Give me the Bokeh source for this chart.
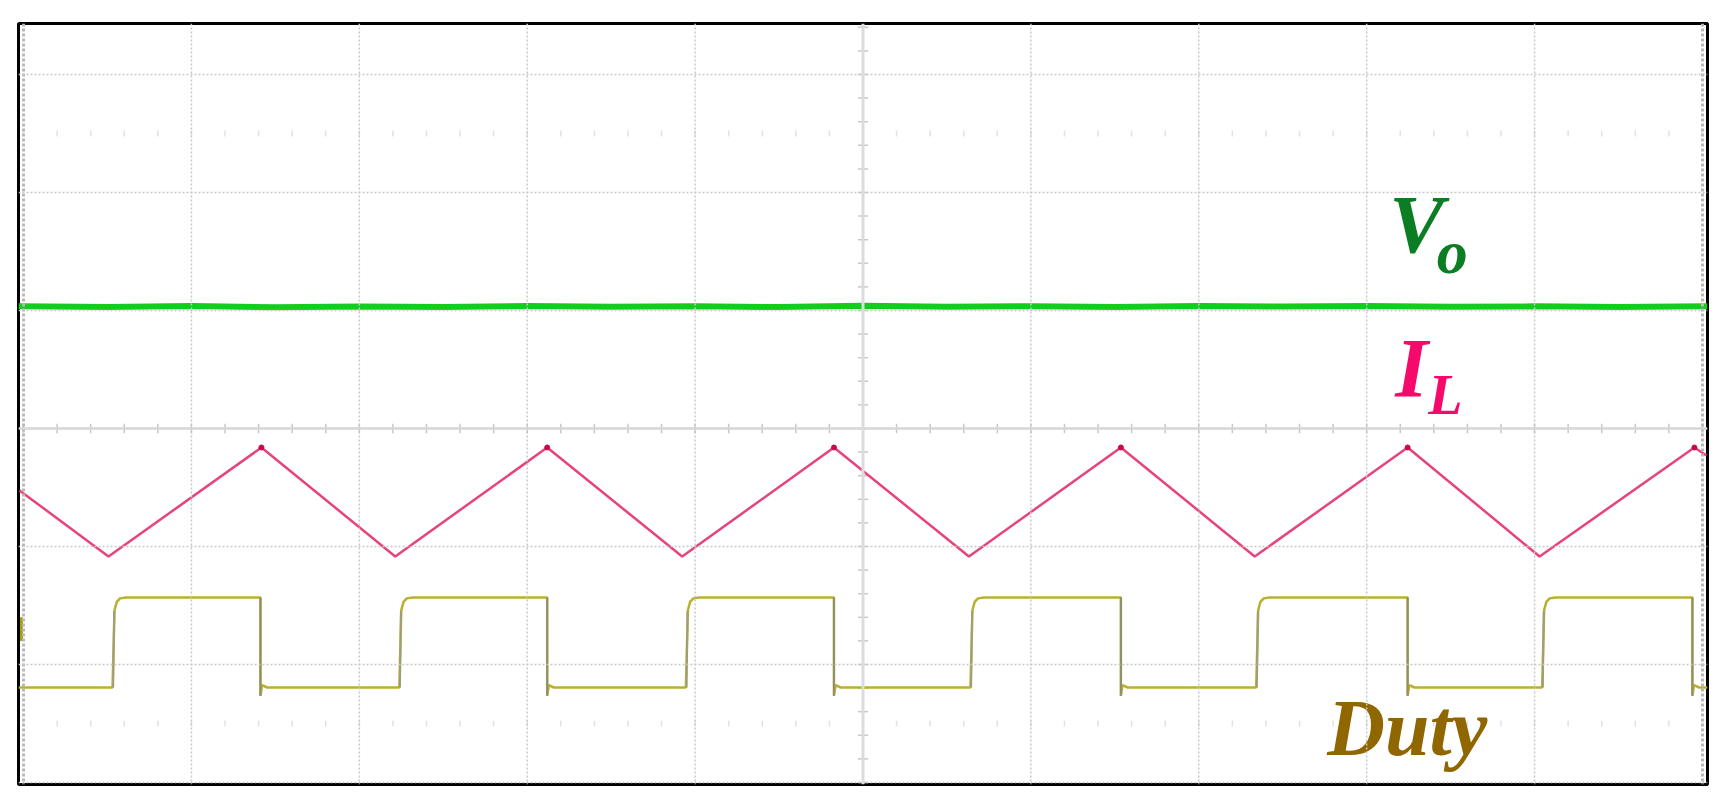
import numpy as np
from bokeh.plotting import figure
from bokeh.models import Range1d, Span
from bokeh.core.properties import value
from bokeh.embed import file_html
from bokeh.resources import INLINE

# ---- data (units: screen divisions; x = time div, y = amplitude div) ----
# Output voltage Vo: nearly flat trace with small ripple/noise
vo_t = [-5.03, -4.5, -4.0, -3.5, -3.0, -2.5, -2.0, -1.5, -1.0, -0.5, 0.0,
        0.5, 1.0, 1.5, 2.0, 2.5, 3.0, 3.5, 4.0, 4.5, 5.03]
vo_v = [1.035, 1.030, 1.038, 1.028, 1.034, 1.030, 1.037, 1.031, 1.036, 1.029, 1.040,
        1.032, 1.036, 1.030, 1.038, 1.033, 1.037, 1.031, 1.035, 1.030, 1.036]

# Inductor current IL: triangle vertices
il_t = [-5.024, -4.494, -3.583, -2.786, -1.881, -1.077, -0.173, 0.631, 1.536,
        2.333, 3.244, 4.030, 4.952, 5.024]
il_v = [-0.525, -1.085, -0.161, -1.085, -0.161, -1.085, -0.161, -1.085, -0.161,
        -1.085, -0.161, -1.085, -0.161, -0.229]
il_peak_t = [-3.583, -1.881, -0.173, 1.536, 3.244, 4.952]
il_peak_v = [-0.161, -0.161, -0.161, -0.161, -0.161, -0.161]

# Duty (gate signal): edges and levels
duty_rise = [-4.470, -2.762, -1.055, 0.640, 2.342, 4.045]
duty_fall = [-3.589, -1.881, -0.173, 1.536, 3.244, 4.940]
duty_low = -2.195
duty_high = -1.432

labels = ["V", "o", "I", "L", "Duty"]

# ---- figure ----
p = figure(width=1714, height=788, x_range=Range1d(-5.03, 5.03),
           y_range=Range1d(-3.017, 3.432), x_axis_location=None,
           y_axis_location=None, toolbar_location=None, output_backend="svg",
           min_border_left=18, min_border_right=7, min_border_top=23,
           min_border_bottom=4)
p.grid.visible = False
p.outline_line_color = "black"
p.outline_line_width = 3
p.background_fill_color = "white"
p.border_fill_color = "white"

# graticule
grid_col = "#c8c8c8"
for gx in [-4, -3, -2, -1, 1, 2, 3, 4]:
    p.add_layout(Span(location=gx, dimension="height", line_color=grid_col,
                      line_width=1.5, line_dash="2 2"))
for gx in [-5, 5]:
    p.add_layout(Span(location=gx, dimension="height", line_color="#b8b8b8",
                      line_width=3, line_dash="3 2"))
for gy in [-3, -2, -1, 1, 2, 3]:
    p.add_layout(Span(location=gy, dimension="width", line_color=grid_col,
                      line_width=1.5, line_dash="2 2"))
p.add_layout(Span(location=0, dimension="width", line_color="#d6d6d6", line_width=2.5))
p.add_layout(Span(location=0, dimension="height", line_color="#dcdcdc", line_width=3))

xt = np.arange(-5.0, 5.01, 0.2)
p.segment(x0=xt, y0=-0.04, x1=xt, y1=0.04, line_color="#c8c8c8", line_width=1.5)
yt = np.arange(-3.0, 3.41, 0.2)
p.segment(x0=-0.03, y0=yt, x1=0.03, y1=yt, line_color="#c8c8c8", line_width=1.5)
for ry in [2.5, -2.5]:
    p.segment(x0=xt, y0=ry - 0.025, x1=xt, y1=ry + 0.025, line_color="#e2e2e2", line_width=1.5)

# Vo trace
p.line(vo_t, vo_v, line_color="#12cc1e", line_width=6)

# IL trace
p.line(il_t, il_v, line_color="#e6437f", line_width=2.5)
p.scatter(il_peak_t, il_peak_v, size=5, color="#c8084e")

# Duty trace polyline built from edges / levels
rise_dx = [0.0, 0.012, 0.025, 0.045, 0.08]
rise_fr = [0.0, 0.86, 0.95, 0.99, 1.0]
dx, dy = [-5.03], [duty_low]
for r, f in zip(duty_rise, duty_fall):
    for ddx, fr in zip(rise_dx, rise_fr):
        dx.append(r + ddx)
        dy.append(duty_low + fr * (duty_high - duty_low))
    dx += [f, f, f + 0.01, f + 0.04]
    dy += [duty_high, duty_low - 0.07, duty_low + 0.02, duty_low]
dx.append(5.03)
dy.append(duty_low)
p.line(dx, dy, line_color="#b9b12e", line_width=2.5)
p.segment(x0=[r + 0.004 for r in duty_rise], y0=duty_low, x1=[r + 0.01 for r in duty_rise],
          y1=duty_low + 0.85 * (duty_high - duty_low), line_color="#9e9e7c", line_width=2)
p.segment(x0=duty_fall, y0=duty_high, x1=duty_fall, y1=duty_low - 0.07,
          line_color="#8e8e70", line_width=2)
p.segment(x0=[-5.012], y0=[-1.60], x1=[-5.012], y1=[-1.80], line_color="#a8a010", line_width=3)

# labels
font = value("Liberation Serif")
p.text(x=[3.135], y=[1.729], text=[labels[0]], text_font=font, text_font_style="bold italic",
       text_font_size="82px", text_color="#0b7d22", text_baseline="alphabetic")
p.text(x=[3.417], y=[1.492], text=[labels[1]], text_font=font, text_font_style="bold italic",
       text_font_size="62px", text_color="#0b7d22", text_baseline="alphabetic")
p.text(x=[3.17], y=[0.508], text=[labels[2]], text_font=font, text_font_style="bold italic",
       text_font_size="84px", text_color="#f50a6c", text_baseline="alphabetic")
p.text(x=[3.367], y=[0.288], text=[labels[3]], text_font=font, text_font_style="bold italic",
       text_font_size="56px", text_color="#f50a6c", text_baseline="alphabetic")
p.text(x=[2.765], y=[-2.534], text=[labels[4]], text_font=font, text_font_style="bold italic",
       text_font_size="80px", text_color="#906600", text_baseline="alphabetic")

open("out.html", "w").write(file_html(p, INLINE))
